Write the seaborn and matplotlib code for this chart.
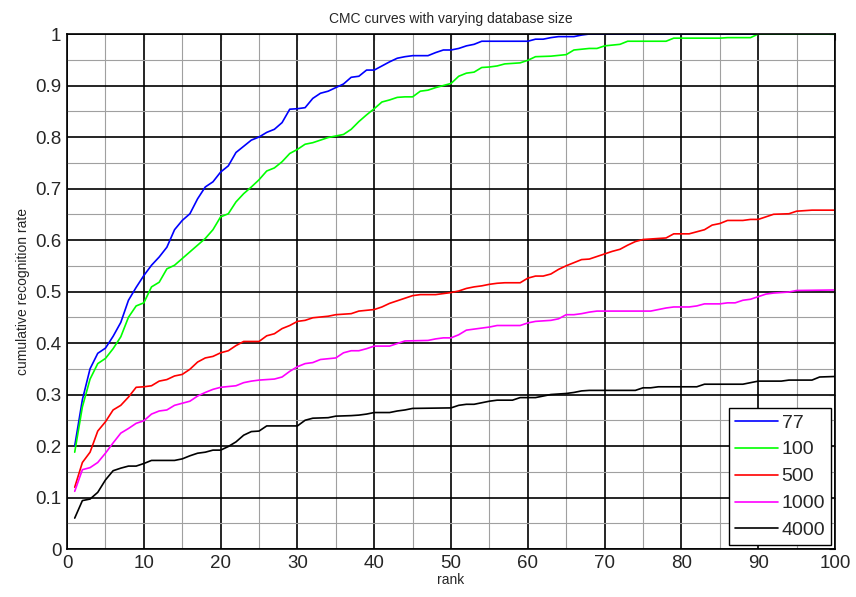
import pandas as pd
import numpy as np
import matplotlib
matplotlib.use("Agg")
import matplotlib.pyplot as plt
import matplotlib.ticker as mticker
import seaborn as sns

# CMC curves (rank, cumulative recognition rate)
rank_77 = [1, 2, 3, 4, 5, 6, 7, 8, 9, 10, 11, 12, 13, 14, 15, 16, 17, 18, 19, 20,
           21, 22, 23, 24, 25, 26, 27, 28, 29, 30, 31, 32, 33, 34, 35, 36, 37, 38, 39, 40,
           41, 42, 43, 44, 45, 47, 48, 49, 50, 51, 52, 53, 54, 60, 61, 62, 63, 64, 66, 67,
           68, 100]
rate_77 = [0.200, 0.290, 0.350, 0.380, 0.390, 0.413, 0.440, 0.483, 0.508, 0.531,
           0.551, 0.567, 0.586, 0.620, 0.638, 0.651, 0.680, 0.703, 0.713, 0.732,
           0.744, 0.770, 0.782, 0.794, 0.800, 0.809, 0.815, 0.828, 0.854, 0.855,
           0.857, 0.875, 0.885, 0.889, 0.896, 0.903, 0.916, 0.918, 0.930, 0.930,
           0.938, 0.946, 0.953, 0.956, 0.958, 0.958, 0.964, 0.969, 0.969, 0.972,
           0.977, 0.980, 0.986, 0.986, 0.990, 0.990, 0.993, 0.995, 0.995, 0.998,
           1.000, 1.000]

rank_100 = [1, 2, 3, 4, 5, 6, 7, 8, 9, 10, 11, 12, 13, 14, 15, 16, 17, 18, 19, 20,
            21, 22, 23, 24, 25, 26, 27, 28, 29, 30, 31, 32, 33, 34, 35, 36, 37, 38, 39, 40,
            41, 42, 43, 44, 45, 46, 47, 48, 49, 50, 51, 52, 53, 54, 55, 56, 57, 59, 60, 61,
            63, 65, 66, 68, 69, 70, 72, 73, 78, 79, 85, 86, 89, 90, 100]
rate_100 = [0.188, 0.276, 0.330, 0.360, 0.370, 0.389, 0.412, 0.450, 0.472, 0.478,
            0.509, 0.518, 0.544, 0.551, 0.564, 0.577, 0.590, 0.603, 0.620, 0.645,
            0.651, 0.674, 0.690, 0.703, 0.717, 0.734, 0.740, 0.752, 0.768, 0.776,
            0.786, 0.789, 0.794, 0.799, 0.802, 0.805, 0.815, 0.830, 0.843, 0.855,
            0.868, 0.872, 0.877, 0.878, 0.878, 0.889, 0.891, 0.896, 0.900, 0.904,
            0.918, 0.924, 0.926, 0.935, 0.936, 0.938, 0.942, 0.944, 0.949, 0.956,
            0.957, 0.960, 0.969, 0.972, 0.972, 0.977, 0.980, 0.986, 0.986, 0.992,
            0.992, 0.993, 0.993, 1.000, 1.000]

rank_500 = [1, 2, 3, 4, 5, 6, 7, 8, 9, 10, 11, 12, 13, 14, 15, 16, 17, 18, 19, 20,
            21, 22, 23, 25, 26, 27, 28, 29, 30, 31, 32, 34, 35, 37, 38, 40, 41, 42, 43, 44,
            45, 46, 48, 49, 50, 51, 52, 53, 54, 55, 56, 57, 59, 60, 61, 62, 63, 64, 65, 66,
            67, 68, 69, 70, 71, 72, 73, 74, 75, 76, 78, 79, 81, 82, 83, 84, 85, 86, 88, 89,
            90, 91, 92, 94, 95, 97, 100]
rate_500 = [0.120, 0.168, 0.188, 0.229, 0.247, 0.270, 0.279, 0.295, 0.314, 0.315,
            0.317, 0.326, 0.329, 0.336, 0.339, 0.349, 0.363, 0.371, 0.374, 0.381,
            0.385, 0.395, 0.403, 0.403, 0.414, 0.418, 0.428, 0.434, 0.442, 0.444,
            0.449, 0.452, 0.455, 0.457, 0.462, 0.465, 0.470, 0.477, 0.482, 0.487,
            0.492, 0.494, 0.494, 0.496, 0.498, 0.501, 0.506, 0.509, 0.511, 0.514,
            0.516, 0.517, 0.517, 0.526, 0.530, 0.530, 0.534, 0.543, 0.550, 0.556,
            0.562, 0.563, 0.568, 0.573, 0.578, 0.582, 0.590, 0.597, 0.601, 0.602,
            0.604, 0.612, 0.612, 0.616, 0.620, 0.629, 0.632, 0.638, 0.638, 0.640,
            0.640, 0.645, 0.650, 0.651, 0.656, 0.658, 0.658]

rank_1000 = [1, 2, 3, 4, 5, 6, 7, 8, 9, 10, 11, 12, 13, 14, 15, 16, 17, 18, 19, 20,
             22, 23, 24, 25, 27, 28, 29, 30, 31, 32, 33, 35, 36, 37, 38, 39, 40, 42, 43, 44,
             47, 48, 49, 50, 51, 52, 53, 54, 55, 56, 59, 60, 61, 63, 64, 65, 66, 67, 68, 69,
             76, 77, 78, 79, 81, 82, 83, 85, 86, 87, 88, 89, 90, 91, 92, 94, 95, 100]
rate_1000 = [0.112, 0.154, 0.158, 0.168, 0.186, 0.206, 0.225, 0.234, 0.244, 0.249,
             0.262, 0.268, 0.270, 0.279, 0.283, 0.287, 0.297, 0.304, 0.310, 0.314,
             0.317, 0.323, 0.326, 0.328, 0.330, 0.334, 0.345, 0.354, 0.360, 0.362,
             0.368, 0.371, 0.381, 0.385, 0.385, 0.389, 0.394, 0.394, 0.399, 0.404,
             0.405, 0.408, 0.410, 0.410, 0.416, 0.425, 0.427, 0.429, 0.431, 0.434,
             0.434, 0.439, 0.442, 0.444, 0.447, 0.455, 0.455, 0.457, 0.460, 0.462,
             0.462, 0.465, 0.468, 0.470, 0.470, 0.472, 0.476, 0.476, 0.478, 0.478,
             0.483, 0.485, 0.490, 0.495, 0.497, 0.499, 0.502, 0.503]

rank_4000 = [1, 2, 3, 4, 5, 6, 7, 8, 9, 10, 11, 14, 15, 16, 17, 18, 19, 20, 21, 22,
             23, 24, 25, 26, 30, 31, 32, 34, 35, 37, 38, 39, 40, 42, 43, 44, 45, 50, 51, 52,
             53, 54, 55, 56, 58, 59, 61, 62, 63, 65, 66, 67, 68, 74, 75, 76, 77, 82, 83, 88,
             89, 90, 93, 94, 97, 98, 100]
rate_4000 = [0.060, 0.094, 0.097, 0.110, 0.134, 0.152, 0.157, 0.161, 0.161, 0.166,
             0.172, 0.172, 0.175, 0.181, 0.186, 0.188, 0.192, 0.192, 0.199, 0.208,
             0.221, 0.228, 0.229, 0.239, 0.239, 0.250, 0.254, 0.255, 0.258, 0.259,
             0.260, 0.262, 0.265, 0.265, 0.268, 0.270, 0.273, 0.274, 0.279, 0.281,
             0.281, 0.284, 0.287, 0.289, 0.289, 0.294, 0.294, 0.297, 0.300, 0.302,
             0.304, 0.307, 0.308, 0.308, 0.313, 0.313, 0.315, 0.315, 0.320, 0.320,
             0.323, 0.326, 0.326, 0.328, 0.328, 0.334, 0.335]

SIZES = ["77", "100", "500", "1000", "4000"]
COLORS = ["#0000ff", "#00ff00", "#ff0000", "#ff00ff", "#000000"]

frames = []
for size, r, v in zip(SIZES,
                      [rank_77, rank_100, rank_500, rank_1000, rank_4000],
                      [rate_77, rate_100, rate_500, rate_1000, rate_4000]):
    frames.append(pd.DataFrame({"rank": r, "rate": v, "size": size}))
df = pd.concat(frames, ignore_index=True)

sns.set_style("white")
plt.rcParams["font.family"] = ["Liberation Sans", "DejaVu Sans"]

fig = plt.figure(figsize=(8.56, 5.97), dpi=100)
ax = fig.add_axes([0.0783, 0.0804, 0.8972, 0.8626])

sns.lineplot(data=df, x="rank", y="rate", hue="size", hue_order=SIZES,
             palette=dict(zip(SIZES, COLORS)), estimator=None, sort=False,
             lw=1.2, ax=ax, legend=True)

ax.set_xlim(0, 100)
ax.set_ylim(0, 1)
ax.xaxis.set_major_locator(mticker.MultipleLocator(10))
ax.xaxis.set_minor_locator(mticker.MultipleLocator(5))
ax.yaxis.set_major_locator(mticker.MultipleLocator(0.1))
ax.yaxis.set_minor_locator(mticker.MultipleLocator(0.05))
ax.yaxis.set_major_formatter(mticker.FormatStrFormatter("%g"))

ax.grid(which="major", color="black", lw=1.2, ls="-")
ax.grid(which="minor", color="#a0a0a0", lw=0.8, ls="-")
ax.set_axisbelow(True)

ax.tick_params(which="major", direction="in", length=4, width=0.8,
               top=True, right=True, labelsize=13.5, pad=4)
ax.tick_params(which="minor", length=0)
for sp in ax.spines.values():
    sp.set_color("black")
    sp.set_linewidth(1.2)

ax.set_title("CMC curves with varying database size", fontsize=10, pad=8)
ax.set_xlabel("rank", fontsize=10, labelpad=1)
ax.set_ylabel("cumulative recognition rate", fontsize=10, labelpad=4)

handles, labels = ax.get_legend_handles_labels()
leg = ax.legend(handles, labels, loc="lower right", fontsize=14,
                frameon=True, fancybox=False, framealpha=1, edgecolor="black",
                handlelength=2.2, handletextpad=0.2, labelspacing=0.48,
                borderpad=0.3, borderaxespad=0.2)
leg.get_frame().set_linewidth(1.0)

fig.savefig("out.png", dpi=100)
